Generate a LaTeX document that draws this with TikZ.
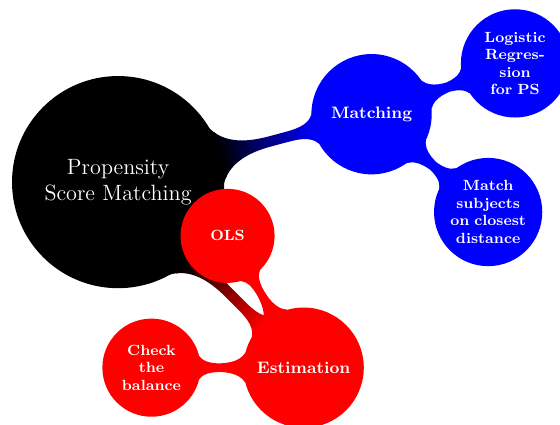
\documentclass[tikz,border=0pt]{standalone}
\usepackage{tikz}
\usetikzlibrary{mindmap,calc,backgrounds}

\begin{document}
\begin{tikzpicture}[
  mindmap,
  every node/.style={concept},
  concept color=black, text=white,
  topic/.style={concept, level 1 concept, font=\bfseries\small},
  subtopic/.style={concept, level 2 concept, font=\bfseries\footnotesize}
]
\useasboundingbox (-2.25,3.47) rectangle (8.42,-4.61);
\node[concept, root concept] (psm) at (0,0) {Propensity Score Matching};
\node[topic, concept color=blue] (match) at ($(psm)+(15:5cm)$) {Matching};
\node[subtopic, concept color=blue] (logit) at ($(match)+(19.5:2.9cm)$) {Logistic Regression for PS};
\node[subtopic, concept color=blue] (closest) at ($(match)+(-40:2.9cm)$) {Match subjects on closest distance};
\node[topic, concept color=red] (est) at ($(psm)+(-45:5cm)$) {Estimation};
\node[subtopic, concept color=red] (ols) at ($(est)+(120:2.9cm)$) {OLS};
\node[subtopic, concept color=red] (balance) at ($(est)+(180:2.9cm)$) {Check the balance};
% connections
\begin{pgfonlayer}{background}
\path (psm) to[circle connection bar switch color=from (black) to (blue)] (match);
\path (psm) to[circle connection bar switch color=from (black) to (red)] (est);
\path (match) to[circle connection bar switch color=from (blue) to (blue)] (logit);
\path (match) to[circle connection bar switch color=from (blue) to (blue)] (closest);
\path (est) to[circle connection bar switch color=from (red) to (red)] (ols);
\path (est) to[circle connection bar switch color=from (red) to (red)] (balance);
\end{pgfonlayer}
\end{tikzpicture}
\end{document}
